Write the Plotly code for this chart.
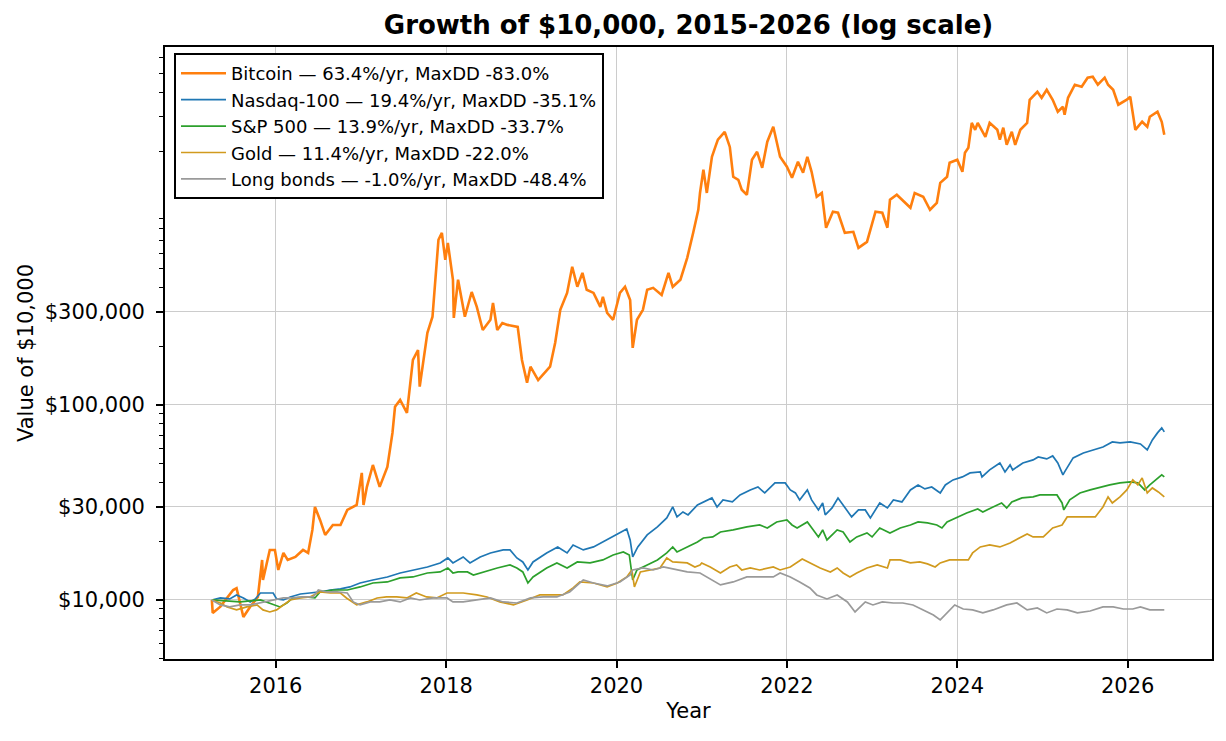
import plotly.graph_objects as go

# ---------------- data (decimal year, value in $) ----------------
btc_year = [2015.25, 2015.26, 2015.35, 2015.50, 2015.54, 2015.62, 2015.70, 2015.79, 2015.84, 2015.85,
            2015.93, 2015.99, 2016.03, 2016.09, 2016.14, 2016.23, 2016.32, 2016.38, 2016.43, 2016.46,
            2016.52, 2016.58, 2016.67, 2016.76, 2016.84, 2016.95, 2017.01, 2017.03, 2017.07, 2017.14,
            2017.22, 2017.31, 2017.37, 2017.40, 2017.46, 2017.54, 2017.61, 2017.67, 2017.69, 2017.78,
            2017.84, 2017.91, 2017.95, 2017.99, 2018.02, 2018.08, 2018.09, 2018.14, 2018.22, 2018.30,
            2018.36, 2018.43, 2018.52, 2018.55, 2018.60, 2018.66, 2018.72, 2018.84, 2018.89, 2018.95,
            2018.99, 2019.08, 2019.22, 2019.28, 2019.34, 2019.42, 2019.48, 2019.54, 2019.60, 2019.65,
            2019.73, 2019.81, 2019.84, 2019.89, 2019.96, 2020.04, 2020.10, 2020.16, 2020.19, 2020.24,
            2020.31, 2020.36, 2020.43, 2020.53, 2020.61, 2020.66, 2020.75, 2020.83, 2020.90, 2020.96,
            2020.98, 2021.02, 2021.06, 2021.12, 2021.16, 2021.19, 2021.27, 2021.33, 2021.37, 2021.43,
            2021.47, 2021.53, 2021.59, 2021.65, 2021.71, 2021.77, 2021.84, 2021.92, 2022.00, 2022.06,
            2022.13, 2022.19, 2022.24, 2022.29, 2022.35, 2022.41, 2022.46, 2022.54, 2022.60, 2022.68,
            2022.78, 2022.84, 2022.94, 2023.04, 2023.12, 2023.18, 2023.21, 2023.29, 2023.45, 2023.50,
            2023.60, 2023.68, 2023.76, 2023.80, 2023.88, 2023.91, 2024.00, 2024.06, 2024.09, 2024.13,
            2024.17, 2024.21, 2024.24, 2024.33, 2024.38, 2024.47, 2024.50, 2024.54, 2024.58, 2024.64,
            2024.68, 2024.74, 2024.82, 2024.85, 2024.94, 2024.99, 2025.05, 2025.12, 2025.18, 2025.24,
            2025.26, 2025.30, 2025.38, 2025.46, 2025.53, 2025.59, 2025.65, 2025.73, 2025.77, 2025.83,
            2025.89, 2025.99, 2026.03, 2026.09, 2026.17, 2026.23, 2026.26, 2026.35, 2026.40, 2026.43]
btc_value = [10000, 8580, 9240, 11250, 11500, 8180, 9240, 10360, 16030, 12660,
             18050, 18050, 14250, 17420, 16030, 16620, 18050, 17420, 22860, 30000,
             25720, 21540, 24240, 24240, 28940, 30700, 44800, 30700, 38000, 49200,
             38000, 48100, 71800, 97700, 106000, 91000, 170000, 191000, 124000, 234000,
             283000, 702000, 762000, 554000, 677000, 438000, 279000, 438000, 283000, 379000,
             318000, 242000, 273000, 333000, 242000, 263000, 257000, 251000, 170000, 130000,
             157000, 134000, 157000, 208000, 307000, 375000, 510000, 403000, 475000, 389000,
             375000, 318000, 358000, 296000, 273000, 375000, 403000, 345000, 196000, 273000,
             307000, 389000, 398000, 366000, 475000, 403000, 438000, 567000, 762000, 1000000,
             1220000, 1603000, 1220000, 1870000, 2100000, 2290000, 2510000, 2100000, 1476000, 1425000,
             1267000, 1194000, 1805000, 1983000, 1641000, 2233000, 2666000, 1870000, 1662000, 1459000,
             1763000, 1549000, 1870000, 1566000, 1166000, 1220000, 809000, 977000, 966000, 762000,
             771000, 638000, 685000, 977000, 966000, 809000, 1125000, 1194000, 1024000, 1220000,
             1166000, 1000000, 1086000, 1375000, 1476000, 1742000, 1805000, 1566000, 1960000, 2080000,
             2790000, 2570000, 2790000, 2366000, 2790000, 2570000, 2290000, 2636000, 2153000, 2510000,
             2153000, 2570000, 2790000, 3665000, 4027000, 3750000, 4120000, 3665000, 3184000, 3376000,
             3073000, 3750000, 4375000, 4276000, 4755000, 4811000, 4375000, 4755000, 4375000, 4120000,
             3455000, 3665000, 3795000, 2570000, 2826000, 2666000, 3000000, 3184000, 2826000, 2424000]

ndx_year = [2015.25, 2015.35, 2015.46, 2015.54, 2015.62, 2015.70, 2015.76, 2015.82, 2015.89, 2015.97,
            2016.01, 2016.09, 2016.17, 2016.29, 2016.40, 2016.52, 2016.64, 2016.76, 2016.87, 2016.99,
            2017.14, 2017.31, 2017.46, 2017.61, 2017.78, 2017.93, 2018.02, 2018.08, 2018.14, 2018.20,
            2018.28, 2018.40, 2018.52, 2018.67, 2018.75, 2018.83, 2018.90, 2018.96, 2019.02, 2019.18,
            2019.31, 2019.42, 2019.49, 2019.61, 2019.73, 2019.84, 2019.96, 2020.07, 2020.12, 2020.16,
            2020.19, 2020.25, 2020.36, 2020.48, 2020.59, 2020.66, 2020.71, 2020.78, 2020.84, 2020.95,
            2021.12, 2021.18, 2021.25, 2021.36, 2021.45, 2021.57, 2021.66, 2021.74, 2021.86, 2021.98,
            2022.04, 2022.10, 2022.15, 2022.24, 2022.29, 2022.37, 2022.42, 2022.45, 2022.53, 2022.60,
            2022.68, 2022.76, 2022.84, 2022.92, 2022.98, 2023.04, 2023.09, 2023.18, 2023.25, 2023.35,
            2023.45, 2023.54, 2023.62, 2023.70, 2023.80, 2023.86, 2023.95, 2024.06, 2024.15, 2024.27,
            2024.29, 2024.38, 2024.50, 2024.56, 2024.62, 2024.65, 2024.77, 2024.89, 2024.95, 2025.05,
            2025.12, 2025.18, 2025.24, 2025.26, 2025.36, 2025.48, 2025.59, 2025.71, 2025.82, 2025.91,
            2026.03, 2026.15, 2026.23, 2026.29, 2026.35, 2026.40, 2026.43]
ndx_value = [10000, 10240, 10120, 10610, 10240, 9770, 10120, 10860, 10860, 10860,
             10120, 10000, 10360, 10730, 10860, 10990, 11250, 11390, 11660, 12220,
             12660, 13120, 13750, 14250, 14760, 15480, 16420, 15480, 16040, 16610,
             15480, 16610, 17420, 18050, 18050, 16420, 15660, 14250, 15660, 17420,
             18700, 17420, 19140, 18050, 18700, 19830, 21040, 22320, 23120, 20310,
             16610, 18700, 21540, 23680, 26330, 29980, 26650, 28270, 27280, 30700,
             33340, 29980, 32570, 31810, 34540, 36640, 37960, 35370, 39810, 39810,
             36640, 35370, 32570, 36640, 32570, 28940, 31430, 27280, 29630, 33340,
             29980, 26650, 28940, 28940, 26330, 28940, 31430, 29630, 32570, 31810,
             36640, 38870, 37080, 37960, 35370, 38870, 41250, 42730, 44790, 45330,
             42730, 46410, 50400, 45330, 49230, 46410, 50400, 52220, 54100, 52840,
             54740, 50400, 43750, 45330, 53470, 56710, 58760, 60870, 64570, 63810,
             64570, 63060, 58760, 66110, 71840, 76220, 72700]

spx_year = [2015.25, 2015.58, 2015.82, 2015.89, 2016.05, 2016.13, 2016.20, 2016.36, 2016.46, 2016.52,
            2016.67, 2016.84, 2016.99, 2017.14, 2017.31, 2017.46, 2017.61, 2017.78, 2017.93, 2018.02,
            2018.08, 2018.14, 2018.25, 2018.32, 2018.43, 2018.60, 2018.75, 2018.83, 2018.90, 2018.96,
            2019.02, 2019.18, 2019.30, 2019.42, 2019.54, 2019.69, 2019.84, 2019.96, 2020.08, 2020.15,
            2020.19, 2020.24, 2020.36, 2020.48, 2020.59, 2020.66, 2020.71, 2020.83, 2020.95, 2021.02,
            2021.13, 2021.22, 2021.37, 2021.53, 2021.68, 2021.77, 2021.88, 2022.00, 2022.06, 2022.12,
            2022.24, 2022.31, 2022.37, 2022.42, 2022.47, 2022.59, 2022.66, 2022.74, 2022.82, 2022.94,
            2023.00, 2023.09, 2023.21, 2023.33, 2023.45, 2023.54, 2023.65, 2023.76, 2023.82, 2023.88,
            2024.00, 2024.11, 2024.24, 2024.30, 2024.42, 2024.52, 2024.58, 2024.64, 2024.76, 2024.89,
            2024.97, 2025.09, 2025.17, 2025.23, 2025.25, 2025.32, 2025.44, 2025.56, 2025.68, 2025.79,
            2025.91, 2026.03, 2026.12, 2026.20, 2026.26, 2026.35, 2026.40, 2026.43]
spx_value = [10000, 9770, 10000, 9770, 9210, 9650, 10240, 10360, 10240, 10990,
             11250, 11250, 11660, 12220, 12370, 12970, 13120, 13750, 13920, 14590,
             13750, 13920, 13920, 13430, 13920, 14590, 15120, 14590, 13920, 12220,
             13120, 14590, 15480, 14590, 15660, 15480, 16040, 17010, 17630, 17010,
             12660, 14250, 15120, 16040, 17420, 18700, 17630, 18700, 19830, 20790,
             21040, 22320, 22850, 23680, 24240, 23400, 25120, 25720, 24240, 23400,
             25120, 22850, 21040, 22850, 20310, 22850, 22320, 19830, 21040, 22060,
             21040, 23400, 22060, 23400, 24240, 25120, 24820, 24240, 23400, 25120,
             26650, 27930, 29280, 28270, 29980, 31430, 29630, 31810, 33340, 33740,
             34540, 34540, 34540, 31430, 28940, 32570, 35370, 36640, 37960, 38870,
             39810, 40280, 39810, 36640, 38870, 42230, 43750, 42730]

gold_year = [2015.25, 2015.35, 2015.43, 2015.54, 2015.66, 2015.78, 2015.85, 2015.93, 2016.01, 2016.09,
             2016.17, 2016.29, 2016.40, 2016.52, 2016.64, 2016.76, 2016.83, 2016.95, 2017.07, 2017.19,
             2017.30, 2017.42, 2017.54, 2017.65, 2017.77, 2017.89, 2018.01, 2018.05, 2018.20, 2018.36,
             2018.48, 2018.63, 2018.79, 2018.95, 2019.10, 2019.26, 2019.37, 2019.49, 2019.57, 2019.73,
             2019.89, 2020.01, 2020.12, 2020.18, 2020.21, 2020.28, 2020.39, 2020.51, 2020.59, 2020.66,
             2020.83, 2020.92, 2020.98, 2021.00, 2021.10, 2021.22, 2021.33, 2021.41, 2021.47, 2021.57,
             2021.68, 2021.84, 2021.92, 2022.04, 2022.18, 2022.27, 2022.39, 2022.51, 2022.59, 2022.66,
             2022.74, 2022.82, 2022.94, 2023.06, 2023.18, 2023.21, 2023.33, 2023.45, 2023.56, 2023.65,
             2023.74, 2023.80, 2023.91, 2024.03, 2024.13, 2024.18, 2024.27, 2024.38, 2024.50, 2024.62,
             2024.74, 2024.82, 2024.89, 2025.01, 2025.12, 2025.23, 2025.29, 2025.36, 2025.52, 2025.62,
             2025.71, 2025.77, 2025.82, 2025.91, 2025.99, 2026.06, 2026.12, 2026.17, 2026.23, 2026.29,
             2026.36, 2026.43]
gold_value = [10000, 9650, 9210, 8890, 9210, 9430, 8890, 8680, 8890, 9430,
              10000, 10240, 10360, 10990, 10860, 10860, 10240, 9430, 9770, 10240,
              10360, 10360, 10240, 10860, 10360, 10240, 10860, 10860, 10860, 10610,
              10360, 9770, 9430, 10000, 10610, 10610, 10610, 11520, 12370, 12220,
              11660, 12220, 13120, 14250, 11660, 13920, 14250, 14590, 16420, 15660,
              15480, 14760, 15120, 15480, 14760, 13750, 14760, 15120, 14250, 14590,
              14250, 14760, 14250, 14760, 16230, 15480, 14590, 13920, 14590, 13750,
              13120, 13750, 14590, 15120, 14590, 16040, 16040, 15480, 15660, 15300,
              14760, 15480, 16040, 16040, 16040, 17420, 18700, 19140, 18700, 19600,
              20790, 21800, 21040, 21040, 23400, 24240, 26650, 26650, 26650, 26650,
              29980, 33740, 31430, 33740, 36640, 41250, 38870, 42230, 35370, 37520,
              35790, 33740]

bond_year = [2015.25, 2015.35, 2015.46, 2015.58, 2015.70, 2015.82, 2015.97, 2016.09, 2016.20, 2016.32,
             2016.44, 2016.50, 2016.60, 2016.72, 2016.84, 2016.91, 2016.99, 2017.11, 2017.22, 2017.34,
             2017.46, 2017.58, 2017.69, 2017.85, 2018.01, 2018.08, 2018.20, 2018.36, 2018.52, 2018.67,
             2018.83, 2018.99, 2019.14, 2019.30, 2019.45, 2019.61, 2019.73, 2019.89, 2020.04, 2020.16,
             2020.19, 2020.31, 2020.43, 2020.55, 2020.66, 2020.83, 2020.98, 2021.06, 2021.22, 2021.37,
             2021.53, 2021.68, 2021.84, 2021.92, 2022.04, 2022.15, 2022.27, 2022.35, 2022.47, 2022.59,
             2022.71, 2022.80, 2022.92, 2023.01, 2023.12, 2023.25, 2023.36, 2023.48, 2023.60, 2023.72,
             2023.80, 2023.88, 2023.97, 2024.07, 2024.18, 2024.30, 2024.42, 2024.58, 2024.70, 2024.82,
             2024.94, 2025.05, 2025.17, 2025.29, 2025.41, 2025.56, 2025.71, 2025.83, 2025.95, 2026.06,
             2026.15, 2026.26, 2026.43]
bond_value = [10000, 9430, 9210, 9430, 9430, 9650, 10000, 10240, 10240, 10360,
              10360, 11250, 10990, 10990, 10860, 9770, 9430, 9770, 9770, 10000,
              9770, 10240, 10000, 10240, 10240, 9770, 9770, 10000, 10240, 9770,
              9650, 10240, 10360, 10360, 10990, 12660, 12220, 11800, 12370, 13430,
              14250, 14590, 14250, 14760, 14420, 13920, 13750, 13120, 11940, 12370,
              13120, 13120, 13120, 13750, 13120, 12370, 11520, 10610, 10120, 10610,
              9770, 8680, 9770, 9430, 9770, 9650, 9650, 9430, 8890, 8380,
              7900, 8580, 9430, 8990, 8890, 8580, 8890, 9430, 9650, 8890,
              9100, 8580, 8990, 8890, 8580, 8780, 9210, 9210, 8990, 8990,
              9210, 8890, 8890]

series_names = ["Bitcoin — 63.4%/yr, MaxDD -83.0%",
                "Nasdaq-100 — 19.4%/yr, MaxDD -35.1%",
                "S&P 500 — 13.9%/yr, MaxDD -33.7%",
                "Gold — 11.4%/yr, MaxDD -22.0%",
                "Long bonds — -1.0%/yr, MaxDD -48.4%"]

x_tick_vals = [2016, 2018, 2020, 2022, 2024, 2026]
x_tick_text = ["2016", "2018", "2020", "2022", "2024", "2026"]
y_tick_vals = [10000, 30000, 100000, 300000]
y_tick_text = ["$10,000", "$30,000", "$100,000", "$300,000"]
y_minor_vals = [m * 10 ** k for k in range(3, 7) for m in range(2, 10)
                if m * 10 ** k not in (30000, 300000)]

# ---------------- styling ----------------
colors = ["#ff7f0e", "#1f77b4", "#2ca02c", "#d19a1e", "#9a9a9a"]
widths = [2.6, 1.7, 1.7, 1.7, 1.7]
xs = [btc_year, ndx_year, spx_year, gold_year, bond_year]
ys = [btc_value, ndx_value, spx_value, gold_value, bond_value]

fig = go.Figure()
for name, x, y, c, w in zip(series_names, xs, ys, colors, widths):
    fig.add_trace(go.Scatter(x=x, y=y, mode="lines", name=name,
                             line=dict(color=c, width=w)))

W, H = 1226, 741
L, R, T, B = 165, 14, 47, 82

fig.update_layout(
    width=W, height=H,
    margin=dict(l=L, r=R, t=T, b=B, pad=0),
    paper_bgcolor="white", plot_bgcolor="white",
    font=dict(family="DejaVu Sans", size=21, color="black"),
    title=dict(text="Growth of $10,000, 2015-2026 (log scale)",
               font=dict(size=26, weight="bold", color="black"),
               x=(L + (W - R)) / 2 / W, xanchor="center", xref="container",
               y=1 - 25 / H, yanchor="middle", yref="container"),
    legend=dict(x=0.0086, y=0.99, xanchor="left", yanchor="top",
                bgcolor="white", bordercolor="black", borderwidth=2,
                itemwidth=45,
                font=dict(size=18, color="black"), tracegroupgap=0),
)

fig.update_xaxes(
    range=[2014.70, 2026.99], tickmode="array",
    tickvals=x_tick_vals, ticktext=x_tick_text,
    ticks="outside", ticklen=7, tickwidth=1.7, tickcolor="black",
    showline=True, linecolor="black", linewidth=1.7, mirror=True,
    showgrid=True, gridcolor="#cccccc", gridwidth=1.3, zeroline=False,
    ticklabelstandoff=0,
    title=dict(text="Year", standoff=6, font=dict(size=21)),
)
fig.update_yaxes(
    type="log", range=[3.6974, 6.8344], tickmode="array",
    tickvals=y_tick_vals, ticktext=y_tick_text,
    ticks="outside", ticklen=7, tickwidth=1.7, tickcolor="black",
    showline=True, linecolor="black", linewidth=1.7, mirror=True,
    showgrid=True, gridcolor="#cccccc", gridwidth=1.3, zeroline=False,
    ticklabelstandoff=7,
    minor=dict(tickmode="array", tickvals=y_minor_vals, ticks="outside",
               ticklen=4, tickwidth=1.2, tickcolor="black", showgrid=False),
    title=dict(text="Value of $10,000", standoff=5, font=dict(size=21)),
)

fig.write_html("out.html")
